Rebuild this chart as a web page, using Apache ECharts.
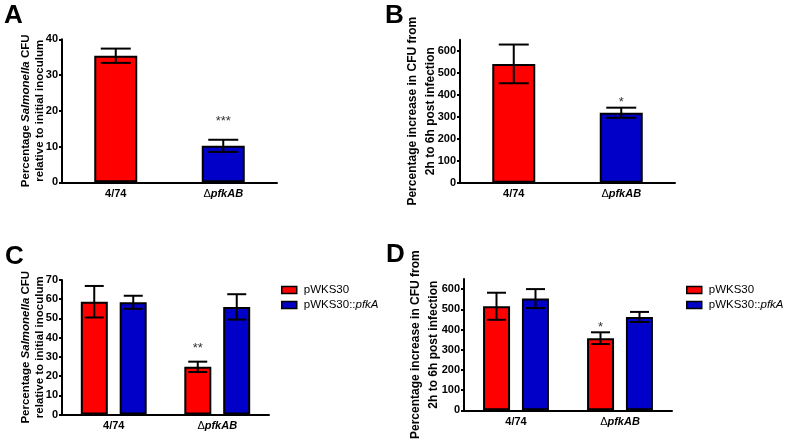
<!DOCTYPE html>
<html><head><meta charset="utf-8">
<script src="https://cdn.jsdelivr.net/npm/echarts@6/dist/echarts.min.js"></script>
<style>html,body{margin:0;padding:0;background:#fff}#c{width:788px;height:441px}</style>
</head><body><div id="c"></div>
<script>
const categories = ['4/74', 'ΔpfkAB'];
// Panel A
const aMean = [35.4, 10.2];
const aErr = [2.0, 1.7];
const aStars = ['', '***'];
const aTicks = [0, 10, 20, 30, 40];
// Panel B
const bMean = [540, 318];
const bErr = [88, 23];
const bStars = ['', '*'];
const bTicks = [0, 100, 200, 300, 400, 500, 600];
// Panel C
const cRedMean = [58.7, 24.8];
const cRedErr = [8.2, 2.7];
const cBlueMean = [58.4, 56.0];
const cBlueErr = [3.4, 6.6];
const cStars = ['', '**'];
const cTicks = [0, 10, 20, 30, 40, 50, 60, 70];
// Panel D
const dRedMean = [515, 357];
const dRedErr = [67, 29];
const dBlueMean = [553, 462];
const dBlueErr = [47, 25];
const dStars = ['', '*'];
const dTicks = [0, 100, 200, 300, 400, 500, 600];
const legendNames = ['pWKS30', 'pWKS30::pfkA'];

const FONT = 'Liberation Sans';
const RED = '#ff0000', BLUE = '#0000c8';

const chart = echarts.init(document.getElementById('c'));

const grids = [
  {left: 62, top: 39.3, width: 215, height: 143},
  {left: 460, top: 39.7, width: 215, height: 143},
  {left: 62, top: 280, width: 207, height: 134.5},
  {left: 464, top: 279, width: 208, height: 138.5}
];

function catLabel(v) {
  if (v.charAt(0) === 'Δ') return '{d|Δ}{bi|' + v.slice(1) + '}';
  return '{b|' + v + '}';
}
const catRich = {
  b: {fontFamily: FONT, fontWeight: 'bold', fontSize: 11, color: '#000'},
  d: {fontFamily: FONT, fontWeight: 'normal', fontSize: 11, color: '#000'},
  bi: {fontFamily: FONT, fontWeight: 'bold', fontStyle: 'italic', fontSize: 11, color: '#000'}
};
const xAxes = grids.map((g, i) => ({
  type: 'category', gridIndex: i, data: categories,
  axisLine: {lineStyle: {color: '#000', width: 2}},
  axisTick: {alignWithLabel: true, length: 4, lineStyle: {color: '#000', width: 2}},
  axisLabel: {margin: 6, formatter: catLabel, rich: catRich}
}));

const titleSal = '{b|Percentage }{i|Salmonella}{b| CFU}\n{b|relative to initial inoculum}';
const titleInc = '{b|Percentage increase in CFU from}\n{b|2h to 6h post infection}';

function yAxis(i, max, ticks, name, gap, lh, fs) {
  const rich = {
    b: {fontFamily: FONT, fontWeight: 'bold', fontSize: fs, color: '#000', lineHeight: lh},
    i: {fontFamily: FONT, fontWeight: 'bold', fontStyle: 'italic', fontSize: fs, color: '#000', lineHeight: lh}
  };
  return {
    type: 'value', gridIndex: i, min: 0, max: max,
    interval: ticks[1] - ticks[0],
    splitLine: {show: false},
    axisLine: {show: true, lineStyle: {color: '#000', width: 2}},
    axisTick: {show: true, length: 3, customValues: ticks, lineStyle: {color: '#000', width: 2}},
    axisLabel: {margin: 4, customValues: ticks, fontFamily: FONT, fontWeight: 'bold', fontSize: 11, color: '#000'},
    name: name, nameLocation: 'middle', nameRotate: 90, nameGap: gap,
    nameMoveOverlap: false,
    nameTextStyle: {rich: rich, align: 'center'}
  };
}
const yAxes = [
  yAxis(0, 40, aTicks, titleSal, 15, 14, 11.5),
  yAxis(1, 650, bTicks, titleInc, 20, 18, 12),
  yAxis(2, 70, cTicks, titleSal, 15, 14, 11.5),
  yAxis(3, 650, dTicks, titleInc, 21, 18, 12)
];

function barSeries(idx, name, data, color, width) {
  return {
    type: 'bar', name: name, xAxisIndex: idx, yAxisIndex: idx, data: data,
    barWidth: width, barGap: '44%',
    itemStyle: {color: color, borderColor: '#000', borderWidth: 2},
    silent: true, z: 2
  };
}
function errSeries(idx, means, errs, stars, offset, capW, starGap) {
  return {
    type: 'custom', xAxisIndex: idx, yAxisIndex: idx, z: 10, silent: true,
    data: means.map((m, i) => [i, m, errs[i]]),
    renderItem: function (params, api) {
      const i = api.value(0), m = api.value(1), e = api.value(2);
      const top = api.coord([i, m + e]);
      const bot = api.coord([i, m - e]);
      const x = top[0] + offset;
      const ls = {stroke: '#000', lineWidth: 2};
      const children = [
        {type: 'line', shape: {x1: x, y1: top[1], x2: x, y2: bot[1]}, style: ls},
        {type: 'line', shape: {x1: x - capW / 2, y1: top[1], x2: x + capW / 2, y2: top[1]}, style: ls},
        {type: 'line', shape: {x1: x - capW / 2, y1: bot[1], x2: x + capW / 2, y2: bot[1]}, style: ls}
      ];
      const s = stars[params.dataIndex];
      if (s) {
        children.push({type: 'text', style: {text: s, x: x, y: top[1] - starGap,
          textAlign: 'center', textVerticalAlign: 'middle',
          font: '13px ' + FONT, fill: '#333'}});
      }
      return {type: 'group', children: children};
    }
  };
}
const W1 = 43, W2 = 27, GAP2 = 12;
const off2 = (W2 + GAP2) / 2;

const series = [
  barSeries(0, 'A', aMean.map((v, i) => ({value: v, itemStyle: {color: i === 0 ? RED : BLUE}})), RED, W1),
  errSeries(0, aMean, aErr, aStars, 0, 30, 18),
  barSeries(1, 'B', bMean.map((v, i) => ({value: v, itemStyle: {color: i === 0 ? RED : BLUE}})), BLUE, W1),
  errSeries(1, bMean, bErr, bStars, 0, 30, 5),
  barSeries(2, legendNames[0], cRedMean, RED, W2),
  barSeries(2, legendNames[1], cBlueMean, BLUE, W2),
  errSeries(2, cRedMean, cRedErr, cStars, -off2, 19, 13),
  errSeries(2, cBlueMean, cBlueErr, ['', ''], off2, 19, 12),
  barSeries(3, legendNames[0], dRedMean, RED, W2),
  barSeries(3, legendNames[1], dBlueMean, BLUE, W2),
  errSeries(3, dRedMean, dRedErr, dStars, -off2, 19, 5),
  errSeries(3, dBlueMean, dBlueErr, ['', ''], off2, 19, 5)
];

function legendFmt(n) {
  const p = n.indexOf('::');
  if (p < 0) return '{n|' + n + '}';
  return '{n|' + n.slice(0, p + 2) + '}{i|' + n.slice(p + 2) + '}';
}
const legRich = {
  n: {fontFamily: FONT, fontSize: 11.5, color: '#000'},
  i: {fontFamily: FONT, fontSize: 11.5, fontStyle: 'italic', color: '#000'}
};
function legend(left, top) {
  return {
    left: left, top: top, orient: 'vertical', data: legendNames, padding: 0,
    icon: 'rect', itemWidth: 15, itemHeight: 7, itemGap: 3, selectedMode: false,
    itemStyle: {borderColor: '#000', borderWidth: 1.5},
    formatter: legendFmt, textStyle: {rich: legRich, padding: [0, 0, 0, 2]}
  };
}

const letterStyle = {font: 'bold 26px ' + FONT, fill: '#000'};
chart.setOption({
  animation: false,
  grid: grids,
  xAxis: xAxes,
  yAxis: yAxes,
  series: series,
  legend: [legend(281, 284), legend(686, 284)],
  graphic: [
    {type: 'text', left: 4, top: 3, style: Object.assign({text: 'A'}, letterStyle)},
    {type: 'text', left: 385, top: 3, style: Object.assign({text: 'B'}, letterStyle)},
    {type: 'text', left: 5, top: 244, style: Object.assign({text: 'C'}, letterStyle)},
    {type: 'text', left: 386, top: 242, style: Object.assign({text: 'D'}, letterStyle)}
  ]
});
</script></body></html>
